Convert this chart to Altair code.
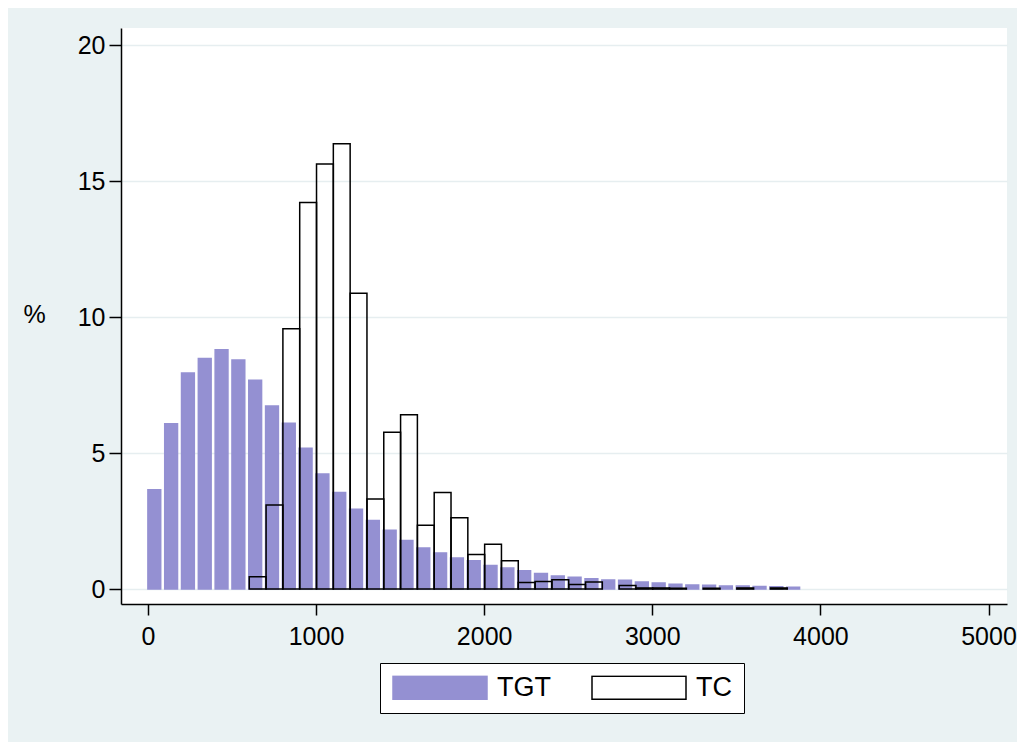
import altair as alt
import pandas as pd

bin_width = 100
series_names = ["TGT", "TC"]

tgt_first_bin = 0
tgt_pct = [3.65, 6.08, 7.95, 8.48, 8.80, 8.43, 7.68, 6.73, 6.10, 5.18,
           4.23, 3.55, 2.94, 2.52, 2.16, 1.79, 1.51, 1.33, 1.14, 1.04,
           0.87, 0.77, 0.67, 0.57, 0.48, 0.43, 0.38, 0.33, 0.32, 0.26,
           0.22, 0.18, 0.15, 0.14, 0.11, 0.11, 0.09, 0.08, 0.07]

tc_first_bin = 600
tc_pct = [0.45, 3.09, 9.58, 14.22, 15.64, 16.38, 10.88, 3.31, 5.77, 6.41,
          2.35, 3.55, 2.62, 1.27, 1.65, 1.04, 0.24, 0.28, 0.34, 0.17,
          0.26, 0.0, 0.13, 0.04, 0.04, 0.03, 0.0, 0.03, 0.0, 0.04,
          0.0, 0.04]

x_ticks = [0, 1000, 2000, 3000, 4000, 5000]
y_ticks = [0, 5, 10, 15, 20]

# ---- styling ----
PURPLE = "#9490D2"
BG = "#EAF2F3"
GRID = "#E6EEF0"
FONT = "Liberation Sans"

rows = []
for name, first, vals in [("TGT", tgt_first_bin, tgt_pct), ("TC", tc_first_bin, tc_pct)]:
    for i, v in enumerate(vals):
        if v > 0:
            lo = first + i * bin_width
            rows.append({"series": name, "lo": lo, "hi": lo + bin_width, "pct": v, "base": 0})
df = pd.DataFrame(rows)

xscale = alt.Scale(domain=[-160, 5110], nice=False, zero=False)
yscale = alt.Scale(domain=[-0.55, 20.64], nice=False, zero=False)

xaxis = alt.Axis(values=x_ticks, format="d", title=None, grid=False,
                 labelFontSize=25, labelFont=FONT, labelColor="black",
                 tickSize=11, tickWidth=1.5, tickColor="black",
                 domainColor="black", domainWidth=1.5, labelPadding=9,
                 labelFlush=False, labelOverlap=False)

yaxis = alt.Axis(values=y_ticks, title="%", titleAngle=0, titleX=-87, titleY=294.5,
                 titleAlign="center", titleBaseline="alphabetic",
                 titleFontSize=25, titleFont=FONT, titleFontWeight="normal",
                 titleColor="black",
                 labelFontSize=25, labelFont=FONT, labelColor="black",
                 tickSize=12, tickWidth=1.5, tickColor="black",
                 domainColor="black", domainWidth=1.5, labelPadding=4,
                 grid=True, gridColor=GRID, gridWidth=1.5,
                 labelFlush=False, labelOverlap=False)

legend = alt.Legend(title=None, orient="none", legendX=259, legendY=635,
                    direction="horizontal",
                    symbolType="M-1,-0.245H1V0.245H-1Z", symbolSize=8836,
                    symbolStrokeWidth=1.5, clipHeight=25,
                    labelFontSize=27, labelFont=FONT, labelColor="black",
                    labelOffset=9, columnPadding=40, padding=12,
                    strokeColor="black", fillColor="white")

fill = alt.Fill("series:N", scale=alt.Scale(domain=series_names, range=[PURPLE, "transparent"]),
                legend=legend)
stroke = alt.Stroke("series:N", scale=alt.Scale(domain=series_names, range=[PURPLE, "black"]),
                    legend=legend)

base = alt.Chart(df).encode(
    x=alt.X("lo:Q", bin="binned", scale=xscale, axis=xaxis),
    x2="hi:Q",
    y=alt.Y("pct:Q", scale=yscale, axis=yaxis),
    y2="base:Q",
    fill=fill,
    stroke=stroke,
)

tgt = base.transform_filter(alt.datum.series == "TGT").mark_bar(
    binSpacing=4, strokeWidth=1.5, xOffset=-2.5)
tc = base.transform_filter(alt.datum.series == "TC").mark_bar(binSpacing=0, strokeWidth=1.5)

chart = alt.layer(tgt, tc).properties(
    width=886,
    height=576,
    autosize=alt.AutoSizeParams(type="none"),
    padding={"left": 113, "top": 20, "right": 10, "bottom": 138},
    background=BG,
).configure_view(fill="white", stroke=None)

chart.save("out.html", embed_options={"renderer": "svg", "actions": False})
